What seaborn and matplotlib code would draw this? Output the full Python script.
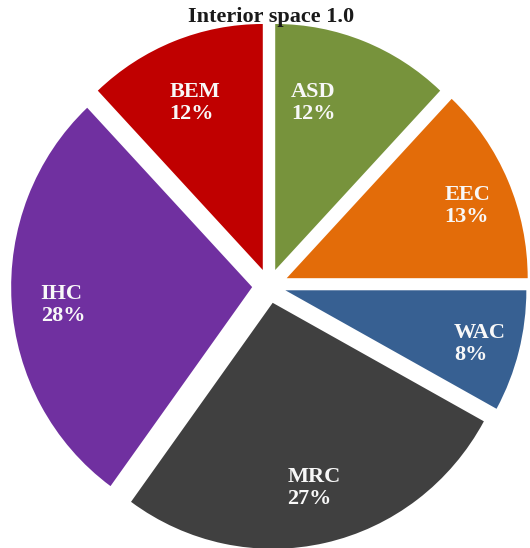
import matplotlib
matplotlib.use("Agg")
import matplotlib.pyplot as plt
import seaborn as sns

categories = ["ASD", "EEC", "WAC", "MRC", "IHC", "BEM"]
shares = [12, 13, 8, 27, 28, 12]
title = "Interior space 1.0"

colors = sns.color_palette(["#77933C", "#E36C09", "#376092", "#404040", "#7030A0", "#C00000"])
explode = [0.07, 0.08, 0.07, 0.07, 0.07, 0.07]
label_xy = [(0.183, 0.744), (0.822, 0.325), (0.876, -0.236),
            (0.187, -0.821), (-0.855, -0.077), (-0.307, 0.744)]

sns.set_theme(style="white")
plt.rcParams["font.family"] = ["Liberation Serif", "DejaVu Serif"]

fig = plt.figure(figsize=(5.30, 5.48), dpi=100)
ax = fig.add_axes([0, 0, 1, 1])
wedges, _ = ax.pie(shares, colors=colors, startangle=90, counterclock=False,
                   explode=explode, radius=1.0,
                   wedgeprops=dict(linewidth=0))
ax.set_aspect("auto")
ax.set_xlim(-269 / 241, (530 - 269) / 241)
ax.set_ylim((286 - 548) / 246, 286 / 246)
ax.axis("off")

for cat, val, (x, y) in zip(categories, shares, label_xy):
    ax.text(x, y, f"{cat}\n{val}%", ha="center", va="center", multialignment="left",
            color="#F8F8F8", fontsize=16, fontweight="bold", linespacing=1.15)

fig.text(271 / 530, 1 - 17 / 548, title, ha="center", va="center",
         fontsize=16, fontweight="bold", color="#1a1a1a")

fig.savefig("out.png", dpi=100)
